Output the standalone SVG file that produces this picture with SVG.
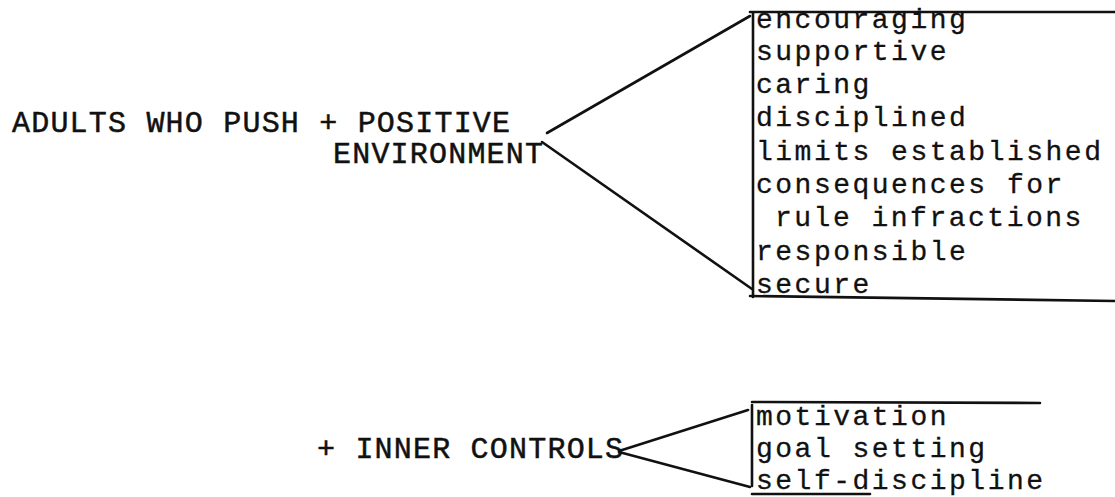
<svg xmlns="http://www.w3.org/2000/svg" width="1115" height="497" viewBox="0 0 1115 497">
<style>
.cap{font-family:"Liberation Mono","DejaVu Sans Mono",monospace;font-size:30px;letter-spacing:1.2px;fill:#111;stroke:#111;stroke-width:0.5}
.lst{font-family:"Liberation Mono","DejaVu Sans Mono",monospace;font-size:28px;letter-spacing:2.5px;fill:#111;stroke:#111;stroke-width:0.3}
.ln{stroke:#111;stroke-width:2.6;fill:none;stroke-linecap:round}
</style>
<rect width="1115" height="497" fill="#fff"/>
<g id="source-adults">
<text class="cap" x="12" y="132">ADULTS WHO PUSH + POSITIVE</text>
<text class="cap" x="333" y="163">ENVIRONMENT</text>
</g>
<g id="source-inner">
<text class="cap" x="317" y="458">+ INNER CONTROLS</text>
</g>
<g id="list-environment">
<text class="lst" x="756" y="28">encouraging</text>
<text class="lst" x="756" y="60">supportive</text>
<text class="lst" x="756" y="93">caring</text>
<text class="lst" x="756" y="126">disciplined</text>
<text class="lst" x="756" y="160">limits established</text>
<text class="lst" x="756" y="193">consequences for</text>
<text class="lst" x="775" y="226">rule infractions</text>
<text class="lst" x="756" y="260">responsible</text>
<text class="lst" x="756" y="293">secure</text>
</g>
<g id="list-inner">
<text class="lst" x="756" y="425">motivation</text>
<text class="lst" x="756" y="457">goal setting</text>
<text class="lst" x="756" y="489">self-discipline</text>
</g>
<g id="connectors">
<path class="ln" d="M547 133 L750 16"/>
<path class="ln" d="M542 142 L752 289"/>
<path class="ln" d="M753 13 L753 297"/>
<path class="ln" d="M750 12 L1115 12"/>
<path class="ln" d="M750 296 L1115 301"/>
<path class="ln" d="M619 451 L748 410"/>
<path class="ln" d="M619 452 L750 487"/>
<path class="ln" d="M752 405 L752 486"/>
<path class="ln" d="M752 402 L1040 403"/>
<path class="ln" d="M752 494 L870 494"/>
</g>
</svg>
